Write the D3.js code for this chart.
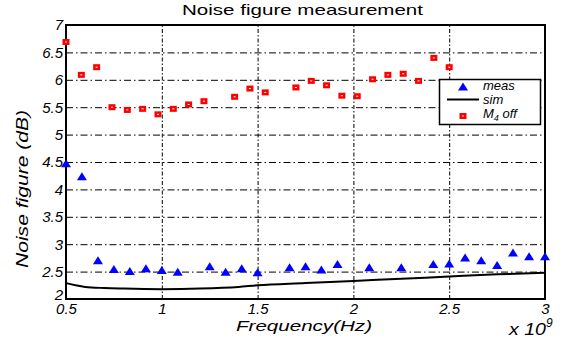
<!DOCTYPE html>
<html><head><meta charset="utf-8">
<script src="https://cdn.jsdelivr.net/npm/d3@7"></script>
<style>
body{margin:0;background:#fff;}
text{font-family:"Liberation Sans",Arial,Helvetica,sans-serif;}
</style></head>
<body><svg id="c" width="567" height="341"></svg>
<script>
// ---- data (frequency in units of 1e9 Hz, noise figure in dB) ----
const measFreq = [0.5,0.583,0.667,0.75,0.833,0.917,1.0,1.083,1.25,1.333,1.417,1.5,1.667,1.75,1.833,1.917,2.083,2.25,2.417,2.5,2.583,2.667,2.75,2.833,2.917,3.0];
const measNF   = [4.47,4.23,2.70,2.54,2.50,2.55,2.52,2.49,2.59,2.49,2.55,2.48,2.57,2.59,2.53,2.63,2.57,2.57,2.63,2.64,2.75,2.70,2.61,2.84,2.77,2.77];
const simFreq  = [0.5,0.55,0.6,0.7,0.8,1.0,1.2,1.4,1.5,1.75,2.0,2.25,2.5,2.75,3.0];
const simNF    = [2.29,2.25,2.22,2.20,2.19,2.18,2.19,2.22,2.25,2.29,2.33,2.37,2.41,2.45,2.48];
const m4Freq   = [0.5,0.58,0.66,0.74,0.82,0.90,0.98,1.06,1.14,1.22,1.38,1.46,1.54,1.70,1.78,1.86,1.94,2.02,2.10,2.18,2.26,2.34,2.42,2.50];
const m4NF     = [6.69,6.09,6.23,5.50,5.45,5.47,5.37,5.47,5.55,5.61,5.69,5.84,5.77,5.86,5.98,5.90,5.71,5.70,6.01,6.09,6.11,5.98,6.40,6.23];
const xTicks = [0.5,1,1.5,2,2.5,3];
const xTickLabels = ["0.5","1","1.5","2","2.5","3"];
const yTicks = [2,2.5,3,3.5,4,4.5,5,5.5,6,6.5,7];
const yTickLabels = ["2","2.5","3","3.5","4","4.5","5","5.5","6","6.5","7"];

const svg = d3.select("#c");
const L=66, R=545, T=25, B=299;
const xs = d3.scaleLinear().domain([0.5,3]).range([L,R]);
const ys = d3.scaleLinear().domain([2,7]).range([B,T]);

// grid (drawn with the axis generator, tick lines spanning the plot)
const gx = svg.append("g").attr("class","gridx").attr("transform",`translate(0,${B})`)
  .call(d3.axisBottom(xs).tickValues(xTicks.slice(1,-1)).tickSize(-(B-T)).tickFormat(""));
const gy = svg.append("g").attr("class","gridy").attr("transform",`translate(${L},0)`)
  .call(d3.axisLeft(ys).tickValues(yTicks.slice(1,-1)).tickSize(-(R-L)).tickFormat(""));
gx.select(".domain").remove(); gy.select(".domain").remove();
gx.selectAll(".tick line").attr("stroke","#000").attr("stroke-width",1).attr("stroke-dasharray","4,2,1.5,2");
gy.selectAll(".tick line").attr("stroke","#000").attr("stroke-width",1).attr("stroke-dasharray","7,3,1.5,3");

// axes
const xa = svg.append("g").attr("transform",`translate(0,${B})`)
  .call(d3.axisBottom(xs).tickValues(xTicks).tickFormat((d,i)=>xTickLabels[i]).tickSize(0).tickPadding(4));
const ya = svg.append("g").attr("transform",`translate(${L},0)`)
  .call(d3.axisLeft(ys).tickValues(yTicks).tickFormat((d,i)=>yTickLabels[i]).tickSize(0).tickPadding(3));
[xa,ya].forEach(a=>{a.select(".domain").remove();
  a.selectAll("text").attr("font-size",15).attr("font-style","italic").attr("fill","#000")
   .attr("font-family","'Liberation Sans',Arial,sans-serif");});
ya.selectAll(".tick text").filter(d=>d===2).attr("dy","0.05em");

// sim line
svg.append("path").datum(simFreq.map((f,i)=>[f,simNF[i]]))
  .attr("d",d3.line().x(d=>xs(d[0])).y(d=>ys(d[1])).curve(d3.curveMonotoneX))
  .attr("fill","none").attr("stroke","#000").attr("stroke-width",2);

// frame
svg.append("rect").attr("x",L).attr("y",T).attr("width",R-L).attr("height",B-T)
  .attr("fill","none").attr("stroke","#000").attr("stroke-width",2);

// markers
const tri = (cx,cy)=>`M${cx},${cy-4.5}L${cx+5},${cy+3.5}L${cx-5},${cy+3.5}Z`;
svg.append("g").selectAll("path").data(measFreq.map((f,i)=>[f,measNF[i]])).join("path")
  .attr("d",d=>tri(xs(d[0]),ys(d[1]))).attr("fill","#0000ff");
svg.append("g").selectAll("rect").data(m4Freq.map((f,i)=>[f,m4NF[i]])).join("rect")
  .attr("x",d=>xs(d[0])-3.5).attr("y",d=>ys(d[1])-3).attr("width",7).attr("height",6).attr("fill","#ff0000");
svg.append("g").selectAll("rect").data(m4Freq.map((f,i)=>[f,m4NF[i]])).join("rect")
  .attr("x",d=>xs(d[0])-1).attr("y",d=>ys(d[1])-0.5).attr("width",2).attr("height",1).attr("fill","#fff");

// legend
const lg = svg.append("g");
lg.append("rect").attr("x",439.5).attr("y",79.5).attr("width",101).attr("height",45)
  .attr("fill","#fff").attr("stroke","#000").attr("stroke-width",1.5);
lg.append("path").attr("d",tri(463,87)).attr("fill","#0000ff");
lg.append("line").attr("x1",447).attr("x2",479).attr("y1",99.5).attr("y2",99.5).attr("stroke","#000").attr("stroke-width",2);
lg.append("rect").attr("x",459.5).attr("y",113).attr("width",7).attr("height",6).attr("fill","#ff0000");
lg.append("rect").attr("x",462).attr("y",115.5).attr("width",2).attr("height",1).attr("fill","#fff");
lg.append("text").attr("x",483).attr("y",90).attr("font-size",13).attr("font-style","italic").text("meas");
lg.append("text").attr("x",483).attr("y",103.5).attr("font-size",13).attr("font-style","italic").text("sim");
const mt = lg.append("text").attr("x",483).attr("y",117.5).attr("font-size",13).attr("font-style","italic");
mt.append("tspan").text("M");
mt.append("tspan").attr("font-size",9).attr("dy",3).text("4");
mt.append("tspan").attr("dy",-3).text(" off");

// title & labels
svg.append("text").attr("x",302.5).attr("y",14.5).attr("text-anchor","middle").attr("font-size",15)
  .attr("textLength",241).attr("lengthAdjust","spacingAndGlyphs").text("Noise figure measurement");
svg.append("text").attr("x",304).attr("y",330.5).attr("text-anchor","middle").attr("font-size",15).attr("font-style","italic")
  .attr("textLength",136).attr("lengthAdjust","spacingAndGlyphs").text("Frequency(Hz)");
svg.append("text").attr("transform","translate(28,189) rotate(-90)").attr("text-anchor","middle").attr("font-size",16).attr("font-style","italic")
  .attr("textLength",158).attr("lengthAdjust","spacingAndGlyphs").text("Noise figure (dB)");
const ex = svg.append("text").attr("x",509).attr("y",334.5).attr("font-size",16).attr("font-style","italic");
ex.append("tspan").attr("textLength",37).attr("lengthAdjust","spacingAndGlyphs").text("x 10");
ex.append("tspan").attr("font-size",12).attr("dy",-8).text("9");
</script></body></html>
